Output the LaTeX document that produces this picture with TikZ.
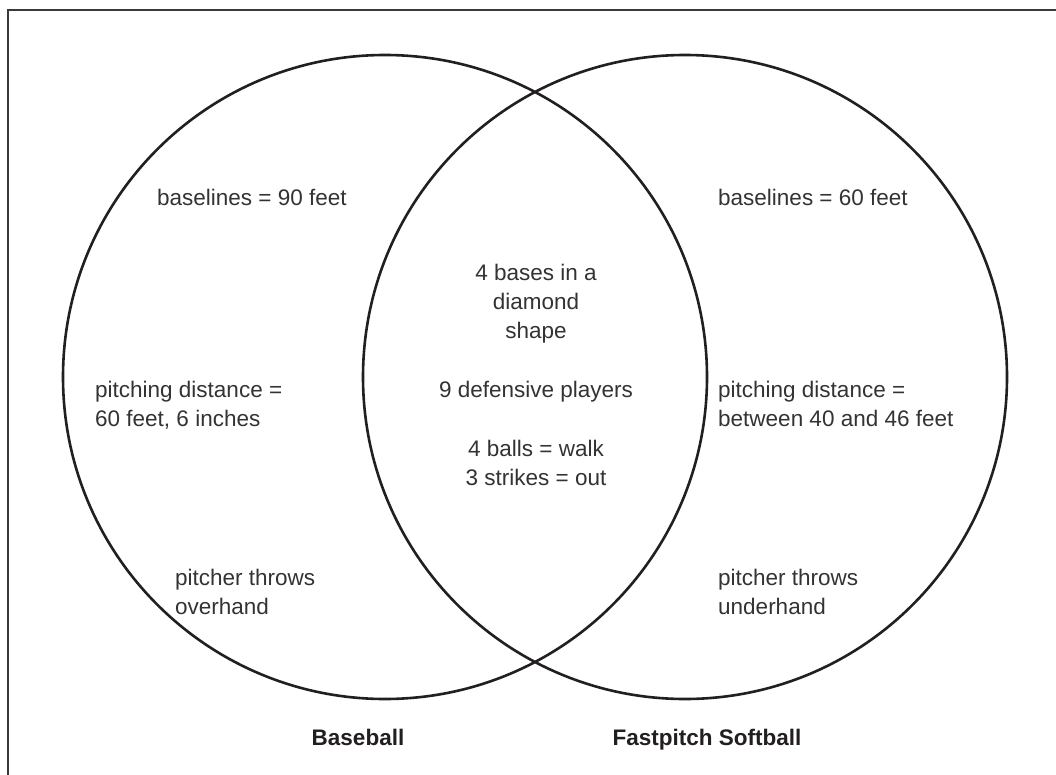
\documentclass[tikz,border=0pt]{standalone}
\usepackage{fontspec}
\setmainfont{Liberation Sans}
\definecolor{ringcol}{HTML}{231F20}
\definecolor{txtcol}{HTML}{333333}
\definecolor{framecol}{HTML}{3A3A3A}
\begin{document}
\begin{tikzpicture}[x=1pt,y=-1pt,
  ring/.style={circle, draw=ringcol, line width=2.6pt, minimum size=644pt, inner sep=0pt},
  lbl/.style={font=\fontsize{22.5}{29}\selectfont, text=txtcol, inner sep=0pt, align=left, anchor=base west},
  mid/.style={font=\fontsize{22.5}{29}\selectfont, text=txtcol, inner sep=0pt, align=center, anchor=base},
  setname/.style={font=\bfseries\fontsize{22.5}{29}\selectfont, text=ringcol, inner sep=0pt, anchor=base}]
\useasboundingbox (0,0) rectangle (1056,775);
\fill[white] (0,0) rectangle (1056,775);
% frame (top and left edges)
\draw[framecol, line width=1.6pt] (8,780) -- (8,10) -- (1060,10);
% the two sets
\node[ring] (base) at (385,377) {};
\node[ring] (soft) at (685,377) {};
% baseball only (multi-line nodes are placed by the baseline of their last line)
\node[lbl] (b1) at (157,206) {baselines = 90 feet};
\node[lbl] (b2) at (95,426) {pitching distance =\\60 feet, 6 inches};
\node[lbl] (b3) at (175,614) {pitcher throws\\overhand};
% common to both
\node[mid] (c1) at (536,338) {4 bases in a\\diamond\\shape};
\node[mid] (c2) at (536,397) {9 defensive players};
\node[mid] (c3) at (536,485) {4 balls = walk\\3 strikes = out};
% softball only
\node[lbl] (s1) at (718,206) {baselines = 60 feet};
\node[lbl] (s2) at (718,426) {pitching distance =\\between 40 and 46 feet};
\node[lbl] (s3) at (718,614) {pitcher throws\\underhand};
% set names
\node[setname] (nb) at (358,745) {Baseball};
\node[setname] (ns) at (707,745) {Fastpitch Softball};
\end{tikzpicture}
\end{document}
